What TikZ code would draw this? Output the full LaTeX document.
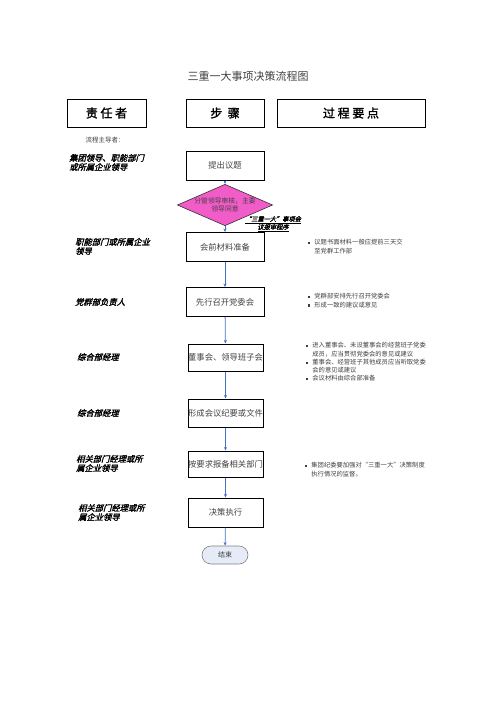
\documentclass[tikz,border=0pt]{standalone}
\usepackage{fontspec}
\setmainfont{Noto Sans CJK SC}
\newfontfamily\cjk{Noto Sans CJK SC}
\newfontfamily\cjkhb[FakeBold=1.5]{Noto Sans CJK SC}
\newfontfamily\cjkbi[FakeSlant=0.25,FakeBold=2]{Noto Sans CJK SC}
\usetikzlibrary{shapes.geometric,shapes.misc,arrows.meta}
\definecolor{arrblue}{HTML}{4472C4}
\definecolor{txtgray}{HTML}{404040}
\definecolor{diafill}{HTML}{F25CC8}
\definecolor{endfill}{HTML}{E6ECF7}
\definecolor{endline}{HTML}{7F7F7F}
\newcommand{\sqb}{\rule[0.6pt]{2.2pt}{2.2pt}}
\tikzset{
  hdr/.style={draw=black, line width=0.8pt, minimum height=28pt, inner sep=0pt,
    font=\cjkhb\fontsize{12}{14}\selectfont},
  stepbox/.style={draw=black, line width=1pt, minimum width=78pt, minimum height=29pt,
    inner sep=0pt, text=txtgray, font=\cjk\fontsize{8.3}{10}\selectfont},
  who/.style={anchor=west, align=left, inner sep=0pt,
    font=\cjkbi\fontsize{8.3}{9.2}\selectfont},
  pts/.style={anchor=north west, inner sep=0pt, text=txtgray,
    font=\cjk\fontsize{6.3}{8.2}\selectfont},
  arr/.style={draw=arrblue, line width=0.8pt, -{Stealth[length=3.5pt,width=3pt]}}
}
\begin{document}
\begin{tikzpicture}[x=1pt,y=-1pt]
\useasboundingbox (0,0) rectangle (496,702);

\node[text=txtgray, font=\cjk\fontsize{11}{13}\selectfont] (title) at (248,76) {三重一大事项决策流程图};

\node[hdr, minimum width=79pt] (h1) at (106.5,113) {责\ 任\ 者};
\node[hdr, minimum width=78pt] (h2) at (225,113) {步\ \ 骤};
\node[hdr, minimum width=148pt] (h3) at (351,113) {过\ 程\ 要\ 点};

\node[text=txtgray, font=\cjk\fontsize{6.5}{8}\selectfont, anchor=west] (lead) at (82,140) {流程主导者：};

% steps
\node[stepbox] (s1) at (225,165.5) {提出议题};
\node[diamond, aspect=2.3, draw=black!80, line width=0.6pt, fill=diafill,
  minimum width=79pt, minimum height=34pt, inner sep=0pt, text=txtgray,
  align=center, font=\cjk\fontsize{6.8}{8.5}\selectfont] (d) at (225,205)
  {分管领导审核，主要\\领导同意};
\node[stepbox] (s2) at (225,247) {会前材料准备};
\node[stepbox] (s3) at (225,302) {先行召开党委会};
\node[stepbox, minimum width=75pt, minimum height=27pt] (s4) at (225.5,357.5) {董事会、领导班子会};
\node[stepbox, minimum width=75pt, minimum height=28pt] (s5) at (225.5,413) {形成会议纪要或文件};
\node[stepbox, minimum width=75pt, minimum height=26pt] (s6) at (225.5,464) {按要求报备相关部门};
\node[stepbox, minimum width=75pt, minimum height=29pt] (s7) at (225.5,512.5) {决策执行};
\node[rounded rectangle, draw=endline, line width=0.6pt, fill=endfill,
  minimum width=46pt, minimum height=18pt, inner sep=0pt, text=txtgray,
  font=\cjk\fontsize{7}{8}\selectfont] (end) at (225,555) {结束};

% review label
\node[align=center, inner sep=0pt, font=\cjkbi\fontsize{6.2}{8}\selectfont] (rev) at (273,224)
  {\underline{“三重一大”事项会}\\\underline{议报审程序}};

% connectors
\draw[arr] (s1) -- (d);
\draw[arr] (d) -- (s2);
\draw[arr] (s2) -- (s3);
\draw[arr] (s3) -- (s4);
\draw[arr] (s4) -- (s5);
\draw[arr] (s5) -- (s6);
\draw[arr] (s6) -- (s7);
\draw[arr] (s7) -- (end);

% responsible
\node[who] (l1) at (69,162.5) {集团领导、职能部门\\或所属企业领导};
\node[who] (l2) at (75,246.5) {职能部门或所属企业\\领导};
\node[who] (l3) at (75,302) {党群部负责人};
\node[who] (l4) at (77,357) {综合部经理};
\node[who] (l5) at (77,413) {综合部经理};
\node[who] (l6) at (76,463.5) {相关部门经理或所\\属企业领导};
\node[who] (l7) at (78,512.5) {相关部门经理或所\\属企业领导};

% key points
\node[pts] (p1) at (308,239) {\begin{tabular}{@{}l@{\hspace{4pt}}l@{}}
  \sqb & 议题书面材料一般应提前三天交\\
       & 至党群工作部\end{tabular}};
\node[pts] (p2) at (308,293) {\begin{tabular}{@{}l@{\hspace{4pt}}l@{}}
  \sqb & 党群部安排先行召开党委会\\
  \sqb & 形成一致的建议或意见\end{tabular}};
\node[pts] (p3) at (306,342) {\begin{tabular}{@{}l@{\hspace{4pt}}l@{}}
  \sqb & 进入董事会、未设董事会的经营班子党委\\
       & 成员，应当贯彻党委会的意见或建议\\
  \sqb & 董事会、经营班子其他成员应当听取党委\\
       & 会的意见或建议\\
  \sqb & 会议材料由综合部准备\end{tabular}};
\node[pts] (p4) at (305,462) {\begin{tabular}{@{}l@{\hspace{4pt}}l@{}}
  \sqb & 集团纪委要加强对“三重一大”决策制度\\
       & 执行情况的监督。\end{tabular}};
\end{tikzpicture}
\end{document}
